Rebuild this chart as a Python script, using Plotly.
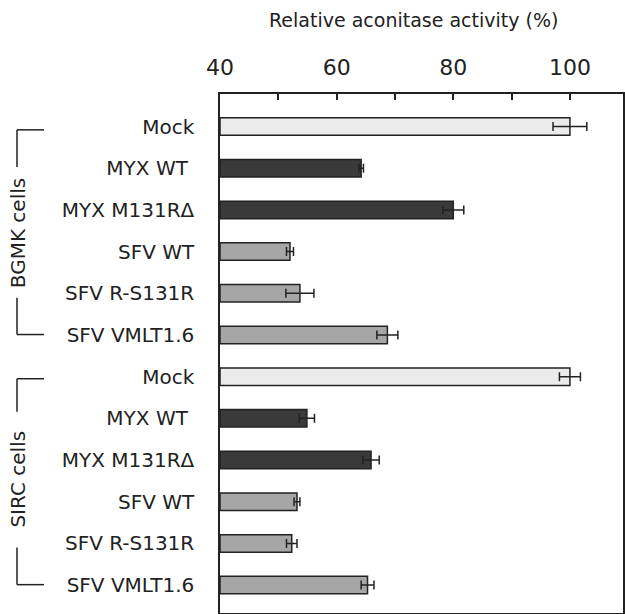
import plotly.graph_objects as go

# ---- data ----
labels = ["Mock", "MYX WT\u00a0", "MYX M131R\u0394", "SFV WT", "SFV R-S131R", "SFV VMLT1.6",
          "Mock", "MYX WT\u00a0", "MYX M131R\u0394", "SFV WT", "SFV R-S131R", "SFV VMLT1.6"]
activity = [100.0, 64.2, 80.0, 52.0, 53.7, 68.7,
            100.0, 54.9, 65.9, 53.2, 52.3, 65.3]
errors = [2.9, 0.4, 1.8, 0.6, 2.4, 1.8,
          1.8, 1.3, 1.4, 0.5, 0.9, 1.1]
groups = ["BGMK cells", "SIRC cells"]
x_tickvals = [40, 50, 60, 70, 80, 90, 100]
x_ticktext = ["40", "", "60", "", "80", "", "100"]
x_title = "Relative aconitase activity (%)"

# ---- style ----
def fill_for(lbl):
    if lbl.startswith("Mock"):
        return "#ebebeb"
    if lbl.startswith("MYX"):
        return "#3a3a3a"
    return "#a6a6a6"

ypos = list(range(len(labels)))
ink = "#222222"
font = "DejaVu Sans"

fig = go.Figure()
fig.add_trace(go.Bar(
    x=[a - 40 for a in activity], base=40, y=ypos, orientation="h",
    marker=dict(color=[fill_for(l) for l in labels], line=dict(color=ink, width=1.5)),
    width=0.42,
    error_x=dict(type="data", array=errors, symmetric=True, color=ink, thickness=1.5, width=4.5),
    showlegend=False, hoverinfo="x+y",
))

fig.update_layout(
    width=625, height=614,
    margin=dict(l=220, r=2, t=94, b=1, autoexpand=False),
    paper_bgcolor="white", plot_bgcolor="white",
    font=dict(family=font, color=ink),
    xaxis=dict(
        side="top", range=[40, 109.1], tickvals=x_tickvals, ticktext=x_ticktext,
        ticks="inside", ticklen=6, tickwidth=1.5, tickcolor=ink,
        showline=True, linecolor=ink, linewidth=1.5, mirror=True, automargin=False,
        showgrid=False, zeroline=False, tickfont=dict(size=22, family=font, color=ink),
        ticklabelstandoff=8,
    ),
    yaxis=dict(
        range=[11.67, -0.78], tickvals=ypos, ticktext=labels,
        ticks="outside", ticklen=0, ticklabelstandoff=20, automargin=False,
        showline=True, linecolor=ink, linewidth=1.5, mirror=True,
        showgrid=False, zeroline=False, tickfont=dict(size=20, family=font, color=ink),
    ),
)

fig.add_annotation(text=x_title, xref="paper", yref="paper", x=0.479, y=(613 - 20) / 519,
                   showarrow=False, font=dict(size=19, family=font, color=ink),
                   xanchor="center", yanchor="middle")

# group brackets
xv = (17 - 220) / 403
xh = (44 - 220) / 403
brackets = [
    (groups[0], 0.08, 0.97, 4.11, 4.99, 2.56),
    (groups[1], 6.05, 6.84, 10.1, 10.99, 8.47),
]
for name, y0, y1, y2, y3, yc in brackets:
    line = dict(color=ink, width=1.5)
    fig.add_shape(type="line", xref="paper", yref="y", x0=xv, x1=xh, y0=y0, y1=y0, line=line)
    fig.add_shape(type="line", xref="paper", yref="y", x0=xv, x1=xv, y0=y0, y1=y1, line=line)
    fig.add_shape(type="line", xref="paper", yref="y", x0=xv, x1=xv, y0=y2, y1=y3, line=line)
    fig.add_shape(type="line", xref="paper", yref="y", x0=xv, x1=xh, y0=y3, y1=y3, line=line)
    fig.add_annotation(text=name, xref="paper", yref="y", x=(18 - 220) / 403, y=yc, textangle=-90,
                       showarrow=False, font=dict(size=20, family=font, color=ink),
                       xanchor="center", yanchor="middle")

fig.write_html("out.html", config={"displayModeBar": False},
               post_script="document.body.style.margin='0';document.body.style.overflow='hidden';")
